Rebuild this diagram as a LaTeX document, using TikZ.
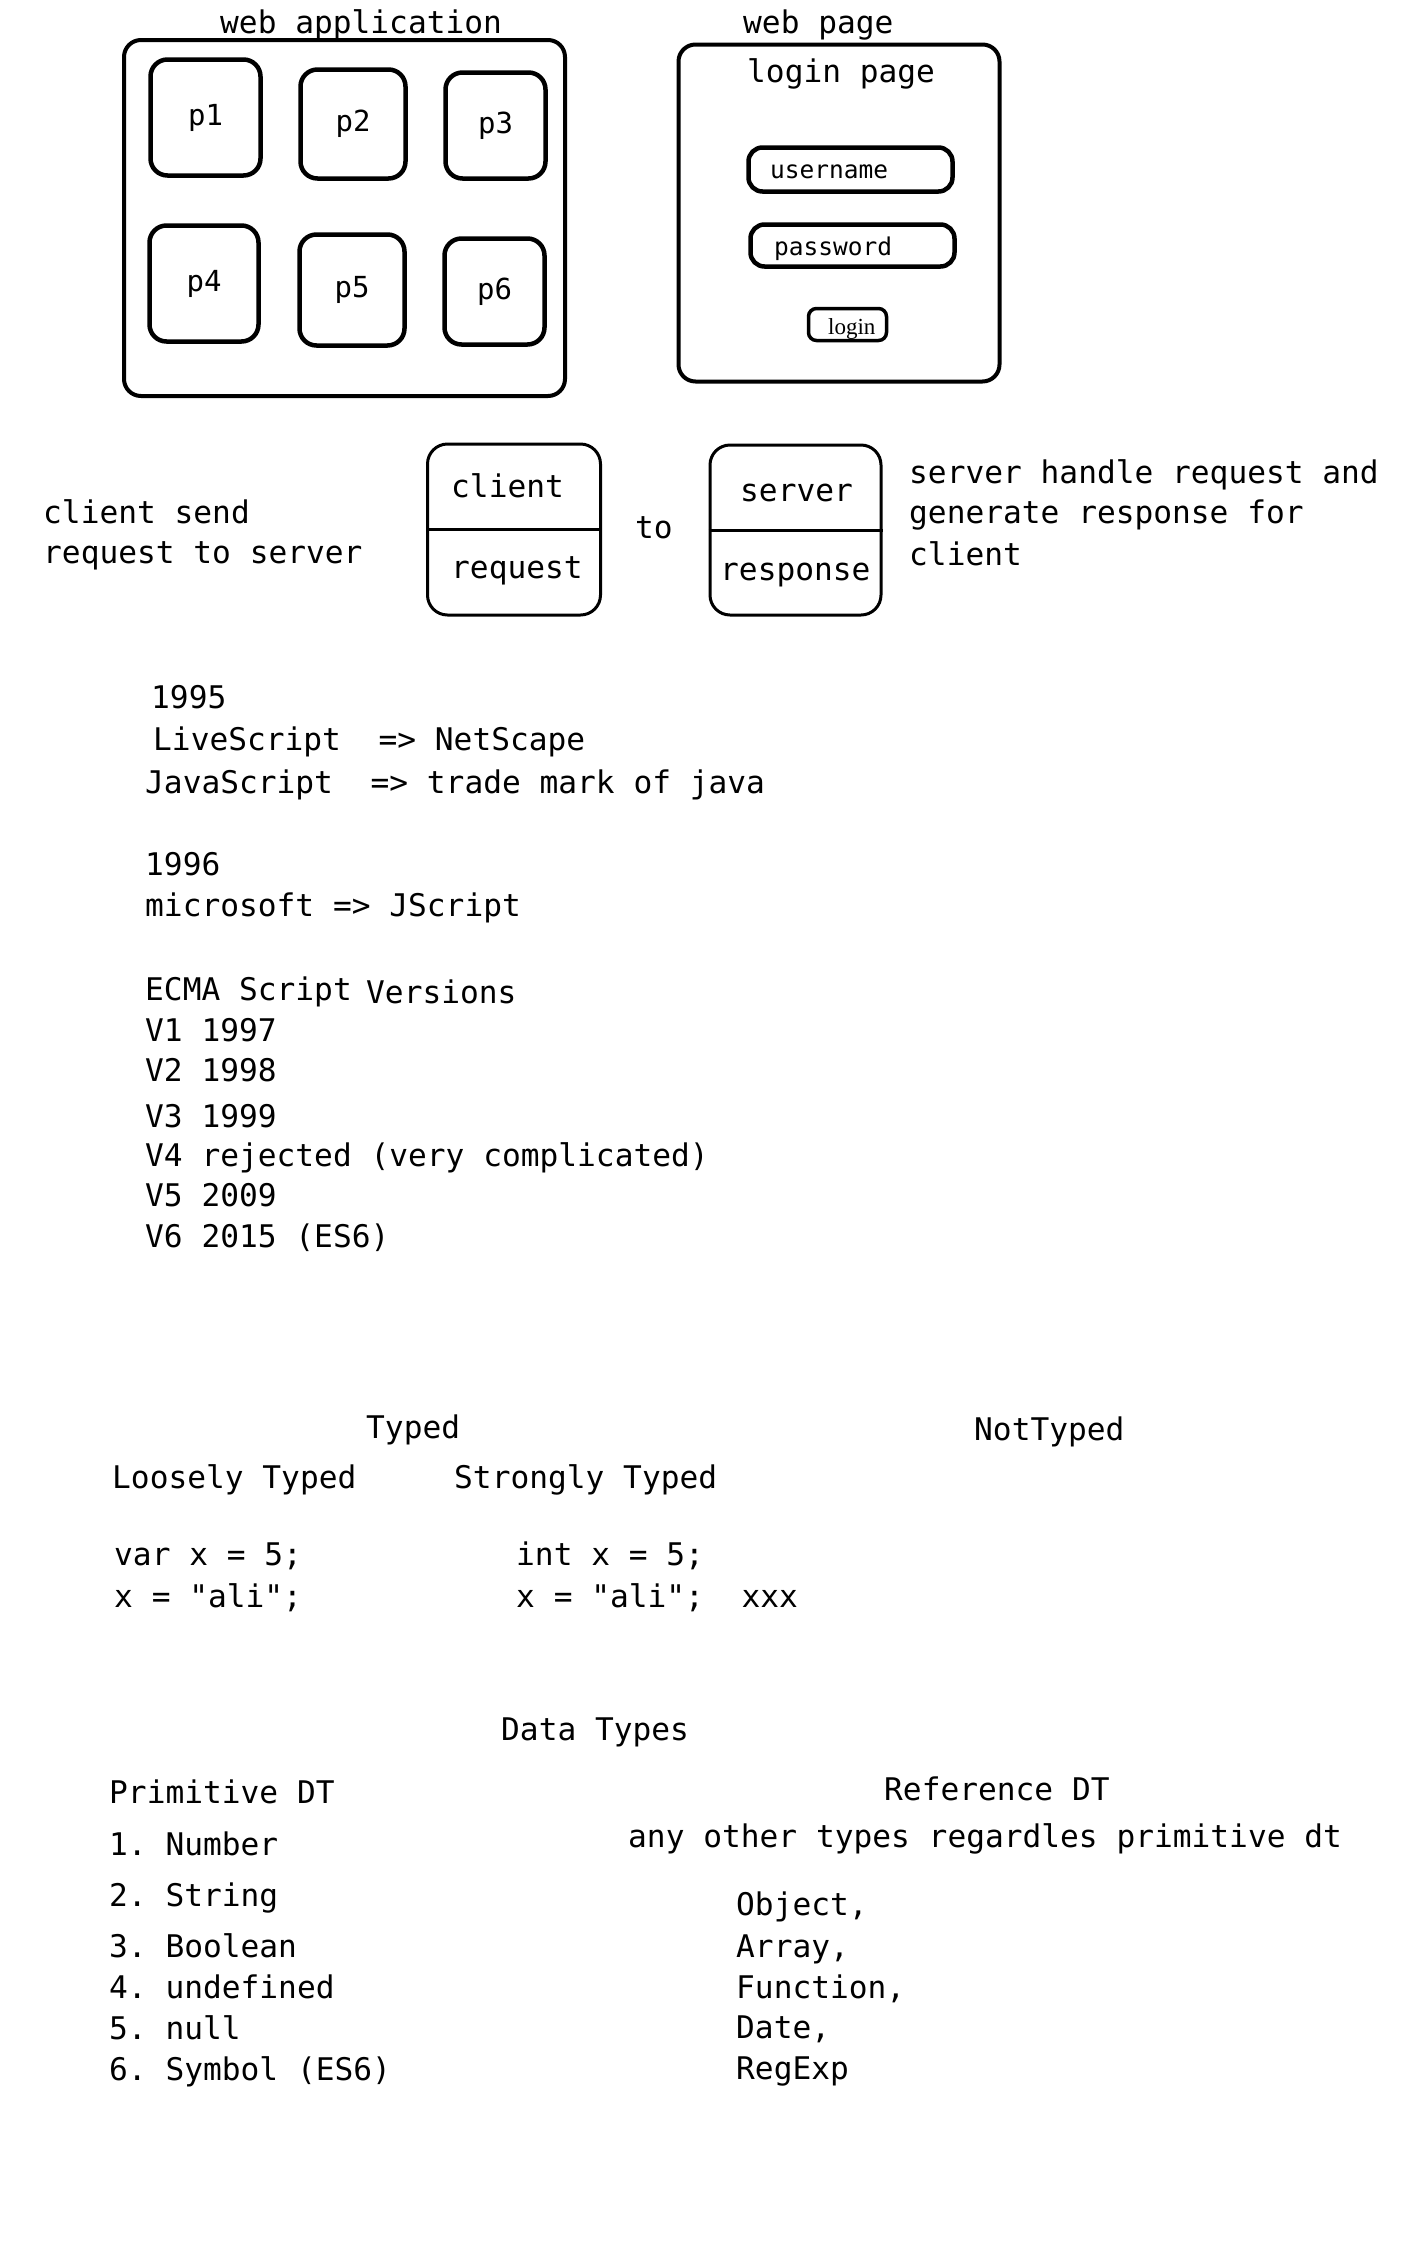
\documentclass[tikz,border=0pt]{standalone}
\usepackage{fontspec}
\newfontfamily\mono[Ligatures=TeXOff]{DejaVu Sans Mono}
\newfontfamily\serifbtn{Liberation Serif}
\frenchspacing
\begin{document}
\begin{tikzpicture}[x=1pt,y=-1pt,
  txt/.style={anchor=base west, inner sep=0pt, font=\mono\fontsize{31.2}{36}\selectfont},
  small/.style={anchor=base west, inner sep=0pt, font=\mono\fontsize{24.5}{28}\selectfont},
  bigbox/.style={draw, line width=4pt, rounded corners=17pt, inner sep=0pt},
  pbox/.style={draw, line width=4.5pt, rounded corners=17pt, inner sep=0pt, font=\mono\fontsize{29}{34}\selectfont},
  field/.style={draw, line width=4.5pt, rounded corners=14pt, inner sep=0pt},
  cbox/.style={draw, line width=3pt, rounded corners=20pt, inner sep=0pt}]
\useasboundingbox (0,0) rectangle (1422,2268);

% web application
\node[bigbox, minimum width=441, minimum height=356] (wa) at (344.5,218) {};
\node[txt] (watitle) at (220,33) {web application};
\node[pbox, minimum width=110, minimum height=116] (p1) at (205.5,117.5) {p1};
\node[pbox, minimum width=105, minimum height=109] (p2) at (353,124) {p2};
\node[pbox, minimum width=100, minimum height=106] (p3) at (495.5,125.5) {p3};
\node[pbox, minimum width=109, minimum height=116] (p4) at (204,283.5) {p4};
\node[pbox, minimum width=105, minimum height=111] (p5) at (352,290) {p5};
\node[pbox, minimum width=100, minimum height=106] (p6) at (494.5,291.5) {p6};

% web page
\node[bigbox, minimum width=321, minimum height=337] (wp) at (839,213) {};
\node[txt] (wptitle) at (743,33) {web page};
\node[txt] (lp) at (747,82) {login page};
\node[field, minimum width=204, minimum height=44] (unbox) at (850.5,169.5) {};
\node[small] (un) at (770,178) {username};
\node[field, minimum width=204, minimum height=42] (pwbox) at (852.5,245.5) {};
\node[small] (pw) at (774,255) {password};
\node[draw, line width=3.5pt, rounded corners=8pt, minimum width=78, minimum height=32] (lgbox) at (847.5,324.5) {};
\node[anchor=base west, inner sep=0pt, font=\serifbtn\fontsize{23}{26}\selectfont] (lg) at (828,334) {login};

% client / server
\node[txt] (cs1) at (43,523) {client send};
\node[txt] (cs2) at (43,563) {request to server};
\node[cbox, minimum width=173, minimum height=171] (cb) at (514,529.5) {};
\draw[line width=3pt] (cb.west) -- (cb.east);
\node[txt] (client) at (451,497) {client};
\node[txt] (request) at (451,578) {request};
\node[txt] (to) at (635,538) {to};
\node[cbox, minimum width=171, minimum height=170] (sb) at (795.5,530) {};
\draw[line width=3pt] (sb.west) -- (sb.east);
\node[txt] (server) at (740,501) {server};
\node[txt] (response) at (720,580) {response};
\node[txt] (sh1) at (909,483) {server handle request and};
\node[txt] (sh2) at (909,523) {generate response for};
\node[txt] (sh3) at (909,565) {client};

% history
\node[txt] (y95) at (151,708) {1995};
\node[txt] (ls) at (153,750) {LiveScript\ \ => NetScape};
\node[txt] (js) at (145,793) {JavaScript\ \ => trade mark of java};
\node[txt] (y96) at (145,875) {1996};
\node[txt] (ms) at (145,916) {microsoft => JScript};
\node[txt] (ecma) at (145,1000) {ECMA Script};
\node[txt] (vers) at (366,1003) {Versions};
\node[txt] (v1) at (145,1041) {V1 1997};
\node[txt] (v2) at (145,1081) {V2 1998};
\node[txt] (v3) at (145,1127) {V3 1999};
\node[txt] (v4) at (145,1166) {V4 rejected (very complicated)};
\node[txt] (v5) at (145,1206) {V5 2009};
\node[txt] (v6) at (145,1247) {V6 2015 (ES6)};

% typing
\node[txt] (typed) at (366,1438) {Typed};
\node[txt] (nottyped) at (974,1440) {NotTyped};
\node[txt] (loose) at (112,1488) {Loosely Typed};
\node[txt] (strong) at (454,1488) {Strongly Typed};
\node[txt] (var1) at (114,1565) {var x = 5;};
\node[txt] (var2) at (114,1607) {x = "ali";};
\node[txt] (int1) at (516,1565) {int x = 5;};
\node[txt] (int2) at (516,1607) {x = "ali";\ \ xxx};

% data types
\node[txt] (dt) at (501,1740) {Data Types};
\node[txt] (prim) at (109,1803) {Primitive DT};
\node[txt] (ref) at (884,1800) {Reference DT};
\node[txt] (any) at (628,1847) {any other types regardles primitive dt};
\node[txt] (d1) at (109,1855) {1. Number};
\node[txt] (d2) at (109,1906) {2. String};
\node[txt] (d3) at (109,1957) {3. Boolean};
\node[txt] (d4) at (109,1998) {4. undefined};
\node[txt] (d5) at (109,2039) {5. null};
\node[txt] (d6) at (109,2080) {6. Symbol (ES6)};
\node[txt] (r1) at (736,1915) {Object,};
\node[txt] (r2) at (736,1957) {Array,};
\node[txt] (r3) at (736,1998) {Function,};
\node[txt] (r4) at (736,2038) {Date,};
\node[txt] (r5) at (736,2079) {RegExp};
\end{tikzpicture}
\end{document}
